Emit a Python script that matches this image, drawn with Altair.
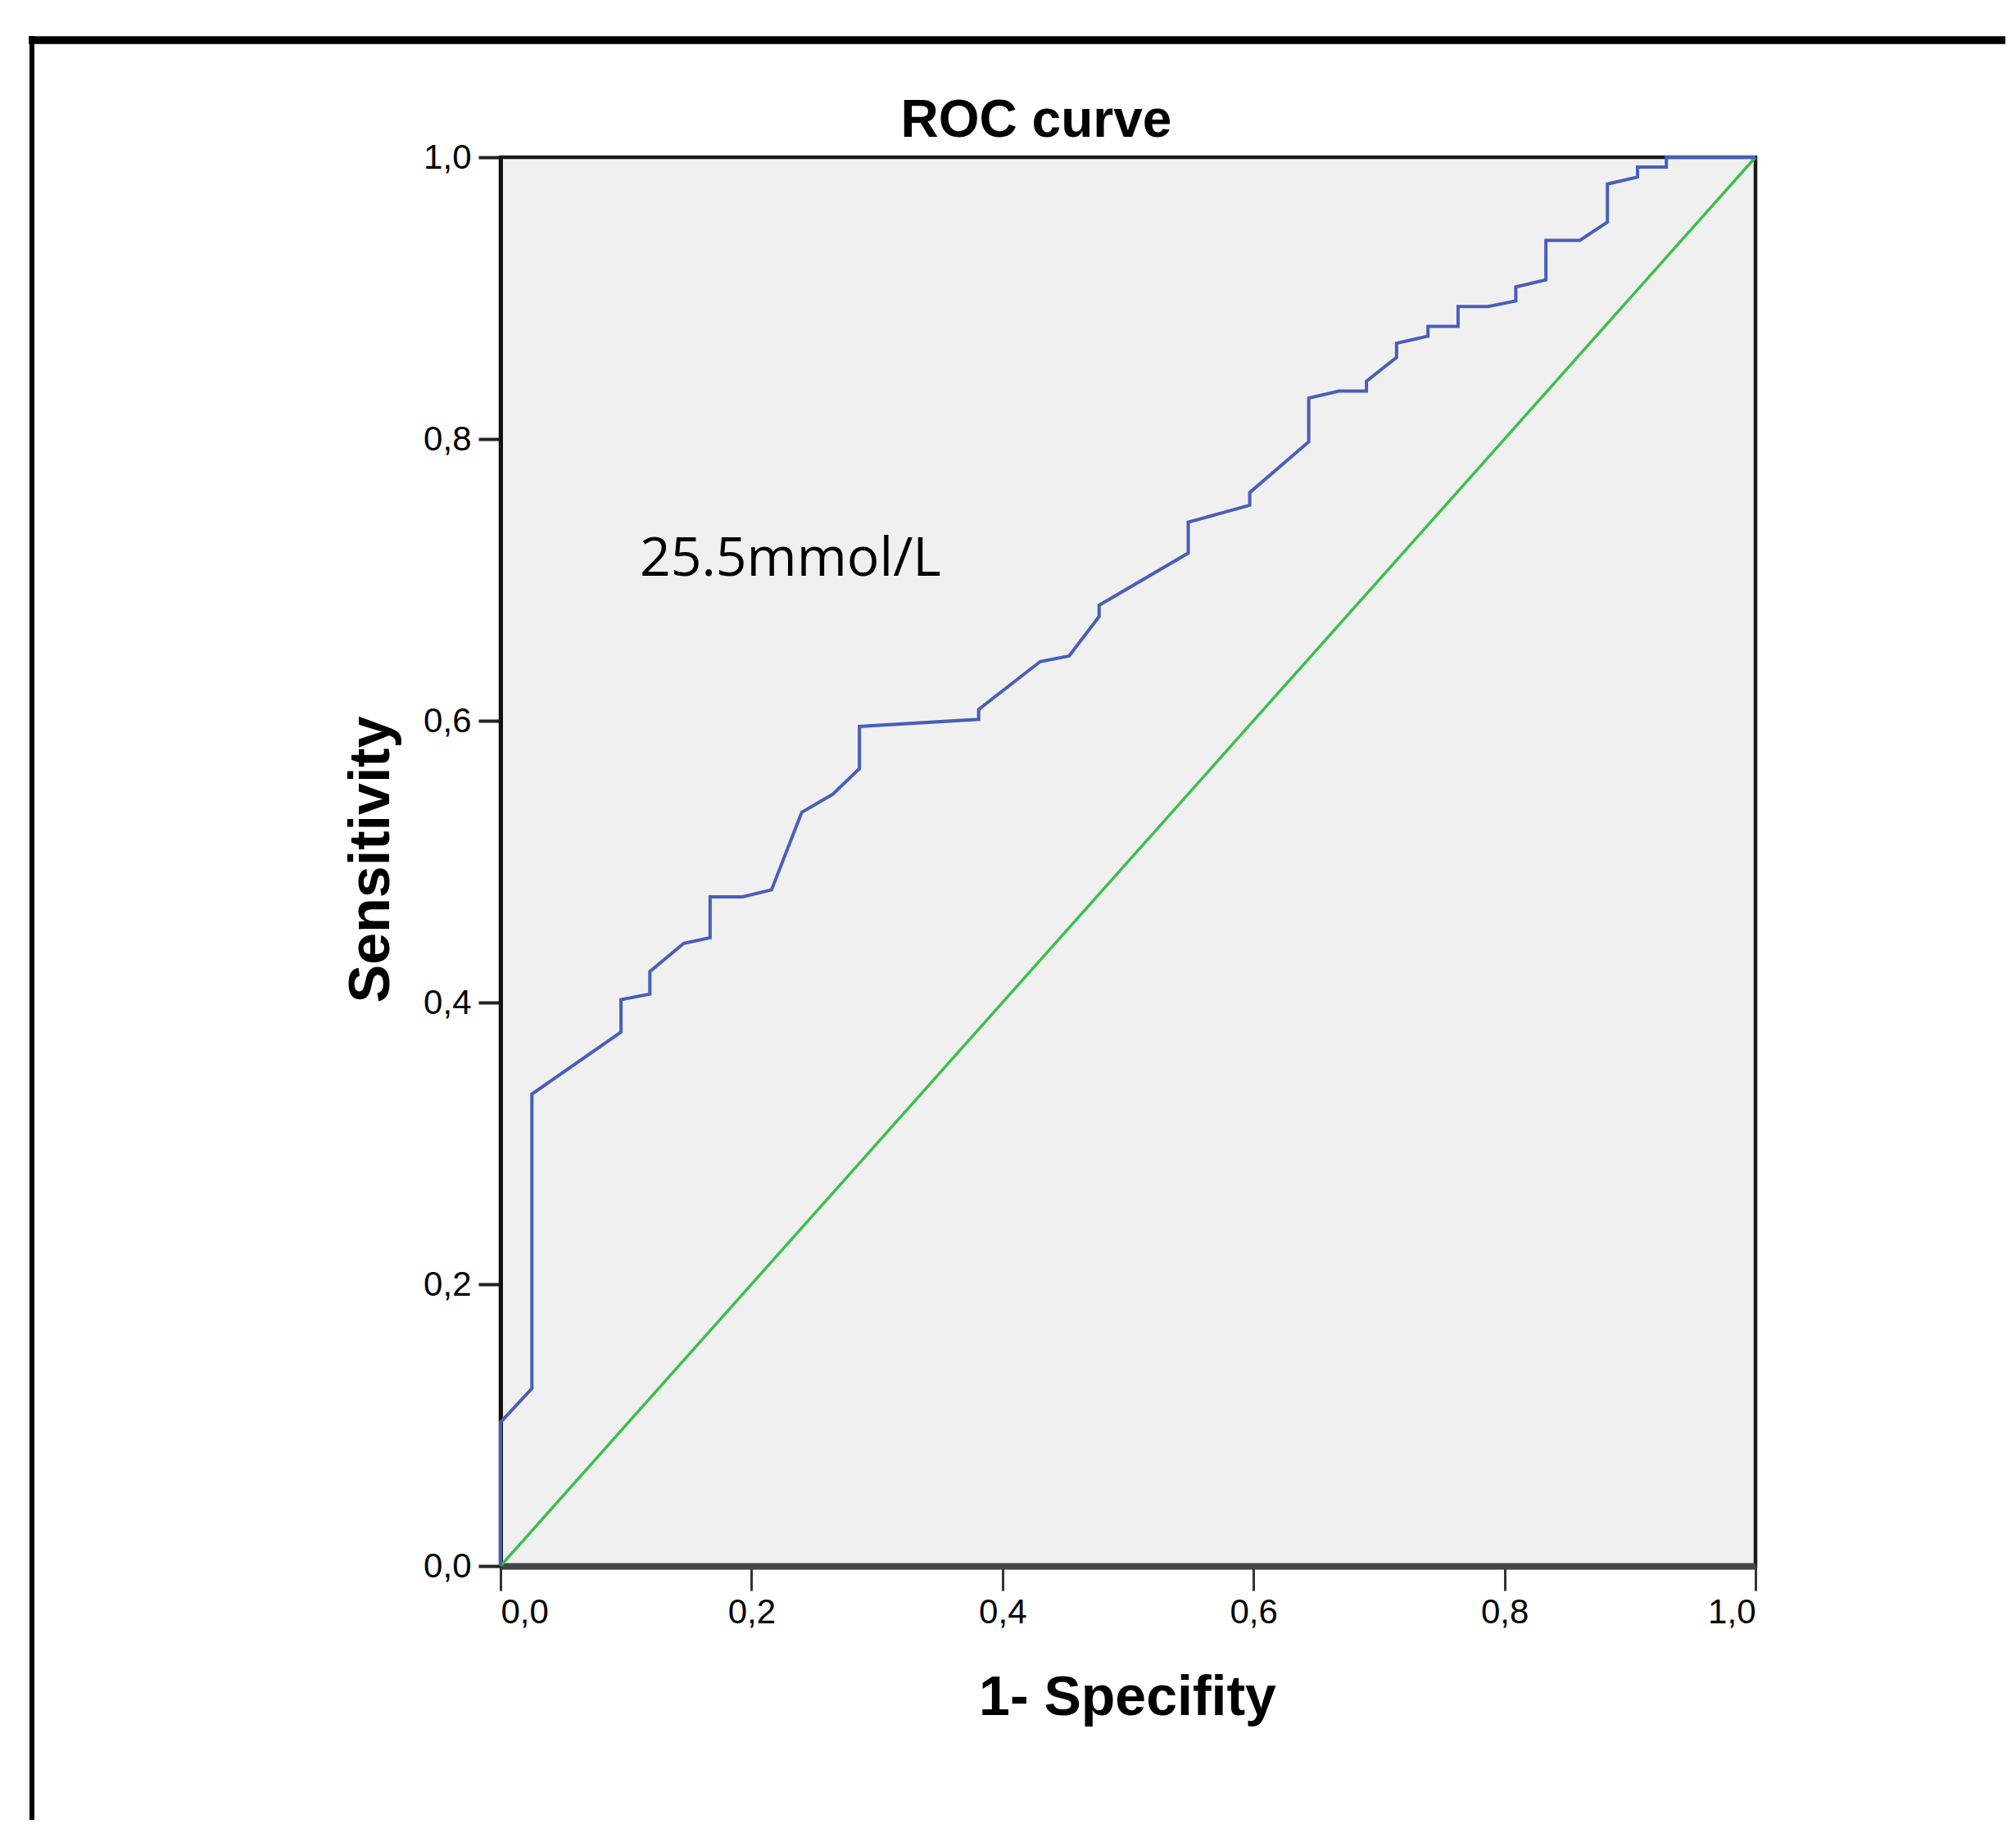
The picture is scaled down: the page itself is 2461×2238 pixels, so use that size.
import altair as alt
import pandas as pd

# ROC curve points (1 - specificity, sensitivity)
fpr = [0.0, 0.0, 0.025, 0.025, 0.096, 0.096, 0.119, 0.119, 0.146, 0.167, 0.167,
       0.193, 0.216, 0.240, 0.265, 0.286, 0.286, 0.381, 0.381, 0.430, 0.453,
       0.477, 0.477, 0.548, 0.548, 0.597, 0.597, 0.644, 0.644, 0.668, 0.690,
       0.690, 0.714, 0.714, 0.739, 0.739, 0.763, 0.763, 0.787, 0.809, 0.809,
       0.833, 0.833, 0.860, 0.882, 0.882, 0.906, 0.906, 0.929, 0.929, 1.0]
tpr = [0.0, 0.102, 0.126, 0.335, 0.379, 0.402, 0.406, 0.422, 0.442, 0.446, 0.475,
       0.475, 0.480, 0.535, 0.548, 0.566, 0.596, 0.601, 0.608, 0.642, 0.646,
       0.674, 0.682, 0.719, 0.741, 0.753, 0.762, 0.798, 0.829, 0.834, 0.834,
       0.841, 0.858, 0.868, 0.873, 0.880, 0.880, 0.894, 0.894, 0.898, 0.908,
       0.913, 0.941, 0.941, 0.954, 0.981, 0.986, 0.993, 0.993, 1.0, 1.0]

ref_x = [0.0, 1.0]
ref_y = [0.0, 1.0]

note_text = ["25.5mmol/L"]
note_x = [0.111]
note_y = [0.703]

chart_title = ["ROC curve"]

tick_values = [0.0, 0.2, 0.4, 0.6, 0.8, 1.0]

roc = pd.DataFrame({"fpr": fpr, "tpr": tpr, "order": list(range(len(fpr)))})
diag = pd.DataFrame({"fpr": ref_x, "tpr": ref_y, "order": [0, 1]})
note = pd.DataFrame({"x": note_x, "y": note_y, "label": note_text})
title_df = pd.DataFrame({"label": chart_title})

W, H = 1532, 1720
label_expr = "replace(format(datum.value, '.1f'), '.', ',')"
TITLE_FONT = "Liberation Sans"

x_scale = alt.Scale(domain=[0, 1], nice=False, zero=False)
y_scale = alt.Scale(domain=[0, 1], nice=False, zero=False)

x_axis = alt.Axis(
    values=tick_values, labelExpr=label_expr, title="1- Specifity", grid=False,
    domainColor="#444444", domainWidth=8, tickColor="#333333", tickWidth=3,
    tickSize=30, labelPadding=6, labelFont="Liberation Sans", labelFontSize=42,
    labelColor="black", titleFont=TITLE_FONT, titleFontSize=68, titleFontWeight="bold",
    titleColor="black", titleX=765, titleY=181, titleAlign="center",
    titleBaseline="alphabetic",
)
y_axis = alt.Axis(
    values=tick_values, labelExpr=label_expr, title="Sensitivity", grid=False,
    domainColor="#111111", domainWidth=5, tickColor="#222222", tickWidth=4,
    tickSize=27, labelPadding=9, labelFont="Liberation Sans", labelFontSize=42,
    labelColor="black", titleFont=TITLE_FONT, titleFontSize=70, titleFontWeight="bold",
    titleColor="black", titleX=-137, titleY=857, titleAlign="center",
    titleBaseline="alphabetic", titleAngle=270,
)

diag_line = alt.Chart(diag).mark_line(color="#3DBE4E", strokeWidth=3.5).encode(
    x=alt.X("fpr:Q", scale=x_scale, axis=x_axis),
    y=alt.Y("tpr:Q", scale=y_scale, axis=y_axis),
    order="order:Q",
)
roc_line = alt.Chart(roc).mark_line(color="#485EB8", strokeWidth=4).encode(
    x=alt.X("fpr:Q", scale=x_scale, axis=x_axis),
    y=alt.Y("tpr:Q", scale=y_scale, axis=y_axis),
    order="order:Q",
)
note_mark = alt.Chart(note).mark_text(
    font="Open Sans", fontSize=66, color="black", align="left", baseline="alphabetic"
).encode(
    x=alt.X("x:Q", scale=x_scale, axis=x_axis),
    y=alt.Y("y:Q", scale=y_scale, axis=y_axis),
    text="label:N",
)

# chart title, placed above the plot area
title_mark = alt.Chart(title_df).mark_text(
    font=TITLE_FONT, fontSize=64, fontWeight="bold", color="black",
    align="center", baseline="alphabetic",
).encode(x=alt.value(654), y=alt.value(-25), text="label:N")

# outer picture frame (decoration)
frame_top = alt.Chart(diag).mark_rule(color="black", strokeWidth=9).encode(
    x=alt.value(-576), x2=alt.value(1850), y=alt.value(-143)
)
frame_left = alt.Chart(diag).mark_rule(color="black", strokeWidth=6).encode(
    x=alt.value(-572), y=alt.value(-148), y2=alt.value(2050)
)

chart = alt.layer(
    frame_top, frame_left, diag_line, roc_line, note_mark, title_mark
).properties(
    width=W, height=H,
    background="white",
    autosize=alt.AutoSizeParams(type="none"),
    padding={"left": 603, "top": 184, "right": 305, "bottom": 310},
).configure_view(
    fill="#F0F0F0", stroke="#1a1a1a", strokeWidth=4.5
)

chart.save("out.html", embed_options={"renderer": "svg", "actions": False})
